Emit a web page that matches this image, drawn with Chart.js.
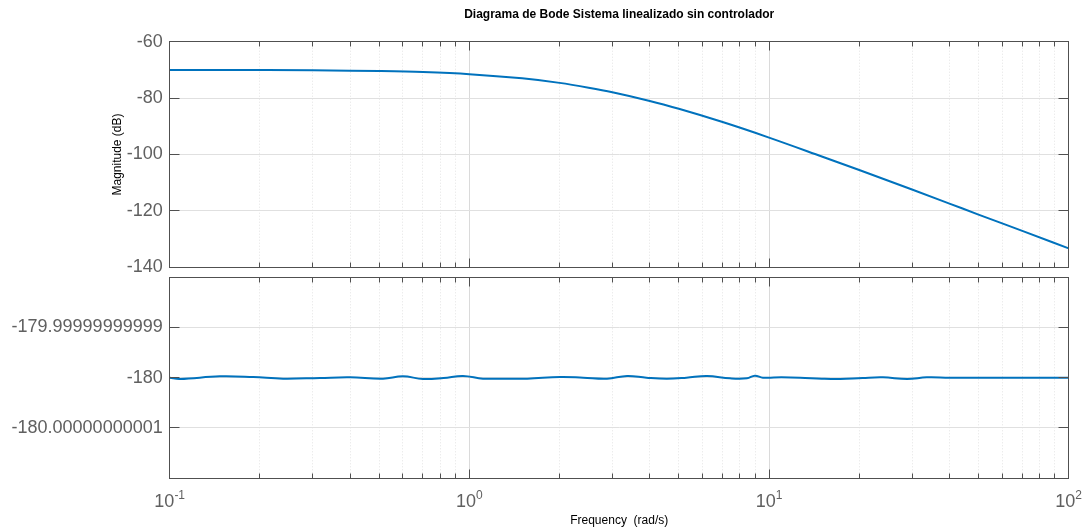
<!DOCTYPE html>
<html lang="es">
<head>
<meta charset="utf-8">
<title>Diagrama de Bode</title>
<script src="https://cdn.jsdelivr.net/npm/chart.js@4/dist/chart.umd.min.js"></script>
<style>
  body { margin: 0; background: #fff; }
  #contenedor { position: relative; width: 1084px; height: 528px; }
  canvas { position: absolute; left: 0; }
  #graficoMagnitud { top: 0; }
  #graficoFase { top: 272px; }
</style>
</head>
<body>
<div id="contenedor">
  <canvas id="graficoMagnitud" width="1084" height="272"></canvas>
  <canvas id="graficoFase" width="1084" height="256"></canvas>
</div>
<script>
// Magnitud en dB
const freqMag = [0.1, 0.15, 0.2, 0.3, 0.4, 0.5, 0.7, 1, 1.5, 2, 2.5, 3, 4, 5, 7, 10, 15, 20, 30, 40, 50, 70, 100];
const magnitudDb = [-70.0, -70.04, -70.07, -70.15, -70.26, -70.41, -70.78, -71.5, -73.0, -74.6, -76.3, -77.9, -81.0, -83.8, -88.5, -94.0, -100.7, -105.5, -112.4, -117.4, -121.3, -127.1, -133.3];

// Fase en grados (queda en -180, con ruido numerico)
const freqFase = [0.1, 0.108, 0.147, 0.19, 0.239, 0.317, 0.4, 0.515, 0.6, 0.7, 0.82, 0.952, 1.11, 1.3, 1.56, 2.01, 2.4, 2.88, 3.36, 3.9, 4.56, 5.3, 6.21, 7.41, 8.44, 8.97, 9.54, 11, 12.7, 15, 17.3, 20.5, 24, 28.9, 33.6, 40, 50, 59, 75, 100];
const faseGrados = [
  -180, -180.00000000000027, -179.99999999999973, -179.9999999999999, -180.0000000000002,
  -180.00000000000007, -179.99999999999993, -180.0000000000002, -179.99999999999973, -180.00000000000027,
  -180.00000000000007, -179.99999999999967, -180.0000000000002, -180.0000000000002, -180.0000000000002,
  -179.99999999999987, -180, -180.0000000000002, -179.99999999999967, -180,
  -180.0000000000002, -180, -179.99999999999967, -180.00000000000013, -180.00000000000013,
  -179.9999999999996, -180, -179.99999999999993, -180, -180.0000000000002,
  -180.00000000000027, -180.00000000000007, -179.99999999999993, -180.00000000000027, -179.99999999999993,
  -180, -180, -180, -180, -180
];

// Marcas de los ejes
const ticksMag = [-140, -120, -100, -80, -60];
const ticksFase = [-180.00000000001, -180, -179.99999999999];
const etiquetasFase = ['-180.00000000001', '-180', '-179.99999999999'];
const decadas = [0.1, 1, 10, 100];
const exponentes = ['-1', '0', '1', '2'];

const fuente = '"Liberation Sans", Arial, Helvetica, sans-serif';
const colorTexto = '#606060';
const colorMarco = '#505050';
const azul = '#0072BD';

Chart.defaults.font.family = fuente;

// rejilla logaritmica: decadas + subdivisiones 2..9
const ticksFrecuencia = [];
decadas.forEach((d, i) => {
  if (i === decadas.length - 1) { ticksFrecuencia.push({ value: d, major: true }); return; }
  for (let k = 1; k <= 9; k++) ticksFrecuencia.push({ value: d * k, major: k === 1 });
});

const ejeFrecuencia = (conTitulo) => ({
  type: 'logarithmic',
  min: 0.1,
  max: 100,
  afterBuildTicks: s => { s.ticks = ticksFrecuencia.map(t => ({ ...t })); },
  afterFit: s => {
    s.height = conTitulo ? 50 : 0;
    s.paddingLeft = 0; s.paddingRight = 0;
  },
  ticks: { display: false },
  grid: {
    drawTicks: false,
    lineWidth: 1,
    color: c => (c.tick && c.tick.major) ? '#dadada' : '#e4e4e4'
  },
  border: { display: false, dash: c => (c.tick && !c.tick.major) ? [1, 2] : [] },
  title: {
    display: conTitulo,
    text: 'Frequency  (rad/s)',
    color: '#000',
    font: { size: 12 },
    padding: { top: 0, bottom: 0 }
  }
});

// marco de los ejes con marcas hacia adentro
const marcoEjes = {
  id: 'marcoEjes',
  afterDatasetsDraw(chart) {
    const { ctx, chartArea: a, scales: { x, y } } = chart;
    const L = Math.floor(a.left) + 0.5, R = Math.floor(a.right) + 0.5;
    const T = Math.floor(a.top) + 0.5, B = Math.floor(a.bottom) + 0.5;
    ctx.save();
    ctx.strokeStyle = colorMarco;
    ctx.lineWidth = 1;
    ctx.beginPath();
    x.ticks.forEach(t => {
      const px = Math.floor(x.getPixelForValue(t.value)) + 0.5;
      const len = t.major ? 9 : 5;
      ctx.moveTo(px, B); ctx.lineTo(px, B - len);
      ctx.moveTo(px, T); ctx.lineTo(px, T + len);
    });
    y.ticks.forEach(t => {
      const py = Math.floor(y.getPixelForValue(t.value)) + 0.5;
      ctx.moveTo(L, py); ctx.lineTo(L + 10, py);
      ctx.moveTo(R, py); ctx.lineTo(R - 10, py);
    });
    ctx.stroke();
    ctx.strokeRect(L, T, R - L, B - T);
    ctx.restore();
  }
};

// etiquetas 10^n del eje de frecuencia
const etiquetasDecadas = {
  id: 'etiquetasDecadas',
  afterDraw(chart) {
    const { ctx, chartArea, scales: { x } } = chart;
    const base = chartArea.bottom + 28.7;
    ctx.save();
    ctx.fillStyle = colorTexto;
    ctx.textAlign = 'left';
    ctx.textBaseline = 'alphabetic';
    decadas.forEach((d, i) => {
      ctx.font = '18px ' + fuente;
      const wBase = ctx.measureText('10').width;
      ctx.font = '12px ' + fuente;
      const wExp = ctx.measureText(exponentes[i]).width;
      const x0 = x.getPixelForValue(d) - (wBase + wExp) / 2;
      ctx.font = '18px ' + fuente;
      ctx.fillText('10', x0, base);
      ctx.font = '12px ' + fuente;
      ctx.fillText(exponentes[i], x0 + wBase, base - 7.5);
    });
    ctx.restore();
  }
};

const ejeYComun = {
  // ancho fijo y sin el margen extra que mete la ultima etiqueta
  afterFit: s => {
    s.width = 169.7;
    s.paddingTop = 0; s.paddingBottom = 0;
  },
  grid: { drawTicks: false, color: '#e0e0e0', lineWidth: 1 },
  border: { display: false },
  ticks: { color: colorTexto, padding: 7, font: { size: 18 } }
};

// Magnitud
new Chart(document.getElementById('graficoMagnitud'), {
  type: 'line',
  data: {
    datasets: [{
      data: freqMag.map((f, i) => ({ x: f, y: magnitudDb[i] })),
      borderColor: azul,
      borderWidth: 2,
      pointRadius: 0,
      cubicInterpolationMode: 'monotone'
    }]
  },
  options: {
    responsive: false,
    animation: false,
    events: [],
    layout: { autoPadding: false, padding: { left: 0, right: 15.3, top: 0, bottom: 4.7 } },
    plugins: {
      legend: { display: false },
      tooltip: { enabled: false },
      title: {
        display: true,
        text: 'Diagrama de Bode Sistema linealizado sin controlador',
        color: '#000',
        fullSize: false,
        font: { size: 12, weight: 'bold' },
        padding: { top: 7, bottom: 20.3 }
      }
    },
    scales: {
      x: ejeFrecuencia(false),
      y: {
        ...ejeYComun,
        min: -140,
        max: -60,
        afterBuildTicks: s => { s.ticks = ticksMag.map(v => ({ value: v })); },
        ticks: { ...ejeYComun.ticks, callback: v => String(v) },
        title: {
          display: true,
          text: 'Magnitude (dB)',
          color: '#000',
          font: { size: 12 },
          padding: { top: 110, bottom: 0 }
        }
      }
    }
  },
  plugins: [marcoEjes]
});

// Fase
new Chart(document.getElementById('graficoFase'), {
  type: 'line',
  data: {
    datasets: [{
      data: freqFase.map((f, i) => ({ x: f, y: faseGrados[i] })),
      borderColor: azul,
      borderWidth: 2,
      pointRadius: 0,
      tension: 0.4
    }]
  },
  options: {
    responsive: false,
    animation: false,
    events: [],
    layout: { autoPadding: false, padding: { left: 0, right: 15.3, top: 5.3, bottom: 0 } },
    plugins: {
      legend: { display: false },
      tooltip: { enabled: false }
    },
    scales: {
      x: ejeFrecuencia(true),
      y: {
        ...ejeYComun,
        min: -180.00000000002,
        max: -179.99999999998,
        bounds: 'data',
        afterBuildTicks: s => { s.ticks = ticksFase.map(v => ({ value: v })); },
        ticks: { ...ejeYComun.ticks, callback: (v, i) => etiquetasFase[i] }
      }
    }
  },
  plugins: [marcoEjes, etiquetasDecadas]
});
</script>
</body>
</html>
